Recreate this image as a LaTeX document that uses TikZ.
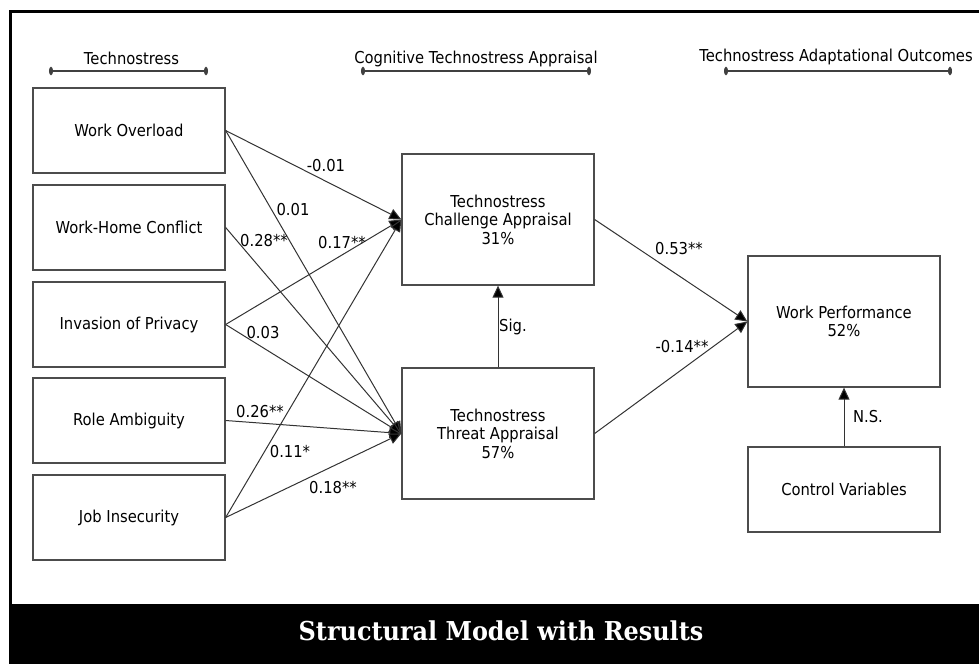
\documentclass[tikz,border=0pt]{standalone}
\usepackage{fontspec}
\setmainfont{DejaVu Sans}[FakeStretch=0.9]
\newfontfamily\titlefont{DejaVu Serif}[FakeStretch=0.92]
\usetikzlibrary{arrows.meta}
\begin{document}
\begin{tikzpicture}[x=1pt,y=-1pt,
  box/.style={draw=black!70, line width=1.3pt, minimum width=192pt,
    minimum height=85pt, inner sep=0pt, align=center,
    font=\fontsize{16.4}{18.5}\selectfont},
  bigbox/.style={box, minimum height=131pt},
  lbl/.style={inner sep=0pt, font=\fontsize{16.4}{18}\selectfont},
  hdrtext/.style={inner sep=0pt, font=\fontsize{16.4}{18}\selectfont},
  hdrbar/.style={draw=black!75, line width=1.6pt,
    {Circle[length=4pt,width=8pt]}-{Circle[length=4pt,width=8pt]}},
  path/.style={draw=black!80, line width=1pt,
    -{Triangle[length=12pt,width=11pt,fill=black]}},
]
\useasboundingbox (0,0) rectangle (979,664);

% frame and title banner
\draw[line width=3pt] (979,11) -- (10,11) -- (10,604);
\fill[black] (9,604) rectangle (979,664);
\node[text=white, inner sep=0pt, font=\titlefont\bfseries\fontsize{26}{28}\selectfont]
  (title) at (501,631) {Structural Model with Results};

% column headings
\node[hdrtext] (hTS) at (131.5,58) {Technostress};
\coordinate (hTSa) at (49,71);
\coordinate (hTSb) at (208,71);
\draw[hdrbar] (hTSa) -- (hTSb);

\node[hdrtext] (hCA) at (476,59) {Cognitive Technostress Appraisal};
\coordinate (hCAa) at (361,71);
\coordinate (hCAb) at (591,71);
\draw[hdrbar] (hCAa) -- (hCAb);

\node[hdrtext] (hAO) at (836,57) {Technostress Adaptational Outcomes};
\coordinate (hAOa) at (724,71);
\coordinate (hAOb) at (952,71);
\draw[hdrbar] (hAOa) -- (hAOb);

% stressors
\node[box] (WO)  at (129,130.5) {Work Overload};
\node[box] (WHC) at (129,227.5) {Work-Home Conflict};
\node[box] (IoP) at (129,324.5) {Invasion of Privacy};
\node[box] (RA)  at (129,420.5) {Role Ambiguity};
\node[box] (JI)  at (129,517.5) {Job Insecurity};

% appraisals and outcomes
\node[bigbox] (CH) at (498,219.5) {Technostress\\Challenge Appraisal\\31\%};
\node[bigbox] (TH) at (498,433.5) {Technostress\\Threat Appraisal\\57\%};
\node[bigbox] (WP) at (844,321.5) {Work Performance\\52\%};
\node[box]    (CV) at (844,489.5) {Control Variables};

% structural paths
\draw[path] (WO.east)  -- (CH.west);
\draw[path] (WO.east)  -- (TH.west);
\draw[path] (WHC.east) -- (TH.west);
\draw[path] (IoP.east) -- (CH.west);
\draw[path] (IoP.east) -- (TH.west);
\draw[path] (RA.east)  -- (TH.west);
\draw[path] (JI.east)  -- (CH.west);
\draw[path] (JI.east)  -- (TH.west);
\draw[path] (CH.east)  -- (WP.west);
\draw[path] (TH.east)  -- (WP.west);
\draw[path] (TH.north) -- (CH.south);
\draw[path] (CV.north) -- (WP.south);

% path coefficients
\node[lbl] (cWOCH)  at (326,166) {-0.01};
\node[lbl] (cWOTH)  at (293,210) {0.01};
\node[lbl] (cWHCTH) at (264,241) {0.28**};
\node[lbl] (cIoPCH) at (342,243) {0.17**};
\node[lbl] (cIoPTH) at (263,333) {0.03};
\node[lbl] (cRATH)  at (260,412) {0.26**};
\node[lbl] (cJICH)  at (290,452) {0.11*};
\node[lbl] (cJITH)  at (333,488) {0.18**};
\node[lbl] (cCHWP)  at (679,249) {0.53**};
\node[lbl] (cTHWP)  at (682,347) {-0.14**};
\node[lbl] (cTHCH)  at (513,327) {Sig.};
\node[lbl] (cCVWP)  at (868,417) {N.S.};
\end{tikzpicture}
\end{document}
